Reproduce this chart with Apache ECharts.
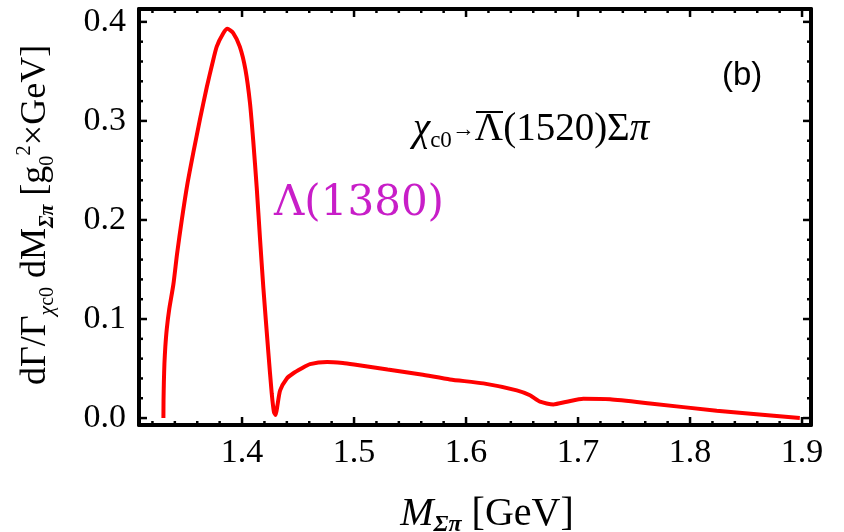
<!DOCTYPE html>
<html>
<head>
<meta charset="utf-8">
<style>
  html, body { margin: 0; padding: 0; background: #fff; }
  #chart { width: 844px; height: 532px; }
</style>
<script src="https://cdn.jsdelivr.net/npm/echarts@6/dist/echarts.min.js"></script>
</head>
<body>
<div id="chart"></div>
<script>
// invariant mass M_Σπ [GeV]
const massValues = [
  1.3298, 1.3299, 1.3302, 1.3307, 1.3315, 1.3328, 1.3350, 1.3387, 1.3420, 1.3462,
  1.3510, 1.3565, 1.3625, 1.3685, 1.3735, 1.3774, 1.3830, 1.3869, 1.3920, 1.3980,
  1.4030, 1.4071, 1.4100, 1.4131, 1.4160, 1.4190, 1.4235, 1.4265, 1.4285, 1.4300,
  1.4315, 1.4340, 1.4400, 1.4455, 1.4530, 1.4607, 1.4760, 1.4900, 1.5000, 1.5300,
  1.5600, 1.5857, 1.6155, 1.6453, 1.6571, 1.6660, 1.6780, 1.6900, 1.7047, 1.7286,
  1.7643, 1.8238, 1.8980
];
// dΓ/Γ dM
const rateValues = [
  0.000, 0.018, 0.036, 0.055, 0.072, 0.090, 0.110, 0.135, 0.166, 0.200,
  0.235, 0.268, 0.302, 0.334, 0.358, 0.375, 0.388, 0.393, 0.389, 0.375,
  0.352, 0.318, 0.280, 0.233, 0.182, 0.132, 0.066, 0.025, 0.006, 0.003,
  0.012, 0.028, 0.040, 0.045, 0.050, 0.0545, 0.0566, 0.0555, 0.054, 0.049,
  0.044, 0.039, 0.035, 0.028, 0.023, 0.0165, 0.0138, 0.0165, 0.0195, 0.019,
  0.0148, 0.0074, 0.000
];
const massTicks = [1.4, 1.5, 1.6, 1.7, 1.8, 1.9];
const rateTicks = [0.0, 0.1, 0.2, 0.3, 0.4];

const X_MIN = 1.308, X_MAX = 1.908;
const Y_MIN = -0.007, Y_MAX = 0.413;
const serif = 'Liberation Serif';

// minor tick positions (every 0.02)
function minorTicks(from, to) {
  const out = [];
  for (let i = Math.round(from * 50); i <= Math.round(to * 50); i++) out.push(i / 50);
  return out;
}
const isMajor = (list, v) => list.some(t => Math.abs(t - v) < 1e-9);
// [x, y, tick length]
const xTickData = minorTicks(1.32, 1.9).map(v => [v, Y_MIN, isMajor(massTicks, v) ? 8 : 4]);
const yTickData = minorTicks(0, 0.4).map(v => [X_MIN, v, isMajor(rateTicks, v) ? 8 : 4]);

// axis carrying the frame line and the tick labels
function labelAxis(min, max, position, labelValues, margin, showLabels) {
  return {
    type: 'value', position: position, min: min, max: max,
    axisLine: { show: true, onZero: false, lineStyle: { color: '#000', width: 4 } },
    axisTick: { show: false },
    axisLabel: { show: showLabels, customValues: labelValues, margin: margin,
      fontFamily: serif, fontSize: 34, color: '#000',
      formatter: v => v.toFixed(1) },
    splitLine: { show: false }
  };
}

// inward tick marks on both opposite frame sides
function tickSeries(data, vertical) {
  return {
    type: 'custom',
    xAxisIndex: 0,
    yAxisIndex: 0,
    silent: true,
    clip: false,
    encode: { x: 0, y: 1 },
    data: data,
    renderItem: function (params, api) {
      const len = api.value(2);
      const st = { stroke: '#000', lineWidth: 2.5 };
      if (vertical) {
        const v = api.value(0);
        const b = api.coord([v, Y_MIN]);
        const t = api.coord([v, Y_MAX]);
        return { type: 'group', children: [
          { type: 'line', shape: { x1: b[0], y1: b[1], x2: b[0], y2: b[1] - len }, style: st },
          { type: 'line', shape: { x1: t[0], y1: t[1], x2: t[0], y2: t[1] + len }, style: st }
        ] };
      }
      const v = api.value(1);
      const l = api.coord([X_MIN, v]);
      const r = api.coord([X_MAX, v]);
      return { type: 'group', children: [
        { type: 'line', shape: { x1: l[0], y1: l[1], x2: l[0] + len, y2: l[1] }, style: st },
        { type: 'line', shape: { x1: r[0], y1: r[1], x2: r[0] - len, y2: r[1] }, style: st }
      ] };
    }
  };
}

const chart = echarts.init(document.getElementById('chart'));

const option = {
  animation: false,
  grid: { left: 139, right: 33, top: 9, bottom: 107, outerBoundsMode: 'none' },
  xAxis: [
    labelAxis(X_MIN, X_MAX, 'bottom', massTicks, 11, true),
    labelAxis(X_MIN, X_MAX, 'top', massTicks, 11, false)
  ],
  yAxis: [
    labelAxis(Y_MIN, Y_MAX, 'left', rateTicks, 13, true),
    labelAxis(Y_MIN, Y_MAX, 'right', rateTicks, 13, false)
  ],
  series: [
    {
      type: 'line',
      xAxisIndex: 0,
      yAxisIndex: 0,
      data: massValues.map((m, i) => [m, rateValues[i]]),
      smooth: 0.2,
      showSymbol: false,
      lineStyle: { color: '#ff0000', width: 4 }
    },
    tickSeries(xTickData, true),
    tickSeries(yTickData, false)
  ],
  graphic: [
    { // y axis title
      type: 'text', x: 36, y: 215, rotation: Math.PI / 2,
      style: {
        text: '{n|dΓ/Γ}{si|χ}{s|c0}{n| dM}{sb|Σπ}{n| [g}{s|0}{p|2}{n|×GeV]}',
        align: 'center', verticalAlign: 'middle',
        rich: {
          n: { fontFamily: serif, fontSize: 36, lineHeight: 44, fill: '#000' },
          s: { fontFamily: serif, fontSize: 20, lineHeight: 20, verticalAlign: 'bottom', fill: '#000' },
          si: { fontFamily: serif, fontSize: 22, fontStyle: 'italic', lineHeight: 22, verticalAlign: 'bottom', fill: '#000' },
          sb: { fontFamily: serif, fontSize: 20, fontStyle: 'italic', fontWeight: 'bold', lineHeight: 20, verticalAlign: 'bottom', fill: '#000' },
          p: { fontFamily: serif, fontSize: 21, lineHeight: 21, verticalAlign: 'top', fill: '#000' }
        }
      }
    },
    { // x axis title
      type: 'text', x: 487, y: 514,
      style: {
        text: '{mi|M}{sb|Σπ}{n| [GeV]}',
        align: 'center', verticalAlign: 'middle',
        rich: {
          mi: { fontFamily: serif, fontSize: 40, fontStyle: 'italic', lineHeight: 46, fill: '#000' },
          sb: { fontFamily: serif, fontSize: 24, fontStyle: 'italic', fontWeight: 'bold', lineHeight: 24, verticalAlign: 'bottom', fill: '#000' },
          n: { fontFamily: serif, fontSize: 40, lineHeight: 46, fill: '#000' }
        }
      }
    },
    {
      type: 'text', left: 722, top: 59,
      style: { text: '(b)', fontFamily: 'Liberation Sans', fontSize: 33, fill: '#000' }
    },
    {
      type: 'text', left: 413, top: 110,
      style: {
        text: '{ci|χ}{s|c0}{a|→}{n|Λ(1520)Σ}{ci|π}',
        rich: {
          n: { fontFamily: serif, fontSize: 39, lineHeight: 46, fill: '#000' },
          a: { fontFamily: serif, fontSize: 23, lineHeight: 46, fill: '#000' },
          ci: { fontFamily: serif, fontSize: 39, fontStyle: 'italic', lineHeight: 46, fill: '#000' },
          s: { fontFamily: serif, fontSize: 23, lineHeight: 23, verticalAlign: 'bottom', fill: '#000' }
        }
      }
    },
    { // bar over the anti-Lambda
      type: 'rect', shape: { x: 476, y: 111, width: 27, height: 2 },
      style: { fill: '#000' }
    },
    {
      type: 'text', left: 274, top: 183,
      style: { text: 'Λ(1380)', fontFamily: 'DejaVu Serif', fontSize: 42, fill: '#c81ec8' }
    }
  ]
};

chart.setOption(option);
</script>
</body>
</html>
